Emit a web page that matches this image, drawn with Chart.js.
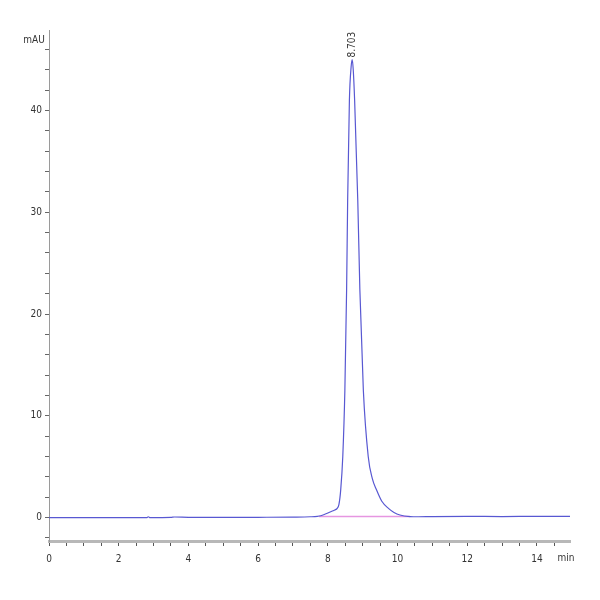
<!DOCTYPE html>
<html>
<head>
<meta charset="utf-8">
<script src="https://cdn.jsdelivr.net/npm/chart.js@4/dist/chart.umd.min.js"></script>
<style>
  html, body { margin: 0; padding: 0; background: #fff; }
  #wrap { width: 600px; height: 600px; }
</style>
</head>
<body>
<div id="wrap"><canvas id="chrom" width="600" height="600"></canvas></div>
<script>
// Retention time (min) and absorbance (mAU)
const times = [0, 1, 2, 2.8, 2.85, 2.9, 3.5, 3.6, 4, 5, 6, 7, 7.5, 7.7, 7.8, 7.9, 8.0, 8.1, 8.2,
  8.27, 8.32, 8.37, 8.43, 8.49, 8.54, 8.57, 8.62, 8.67, 8.70, 8.73, 8.77, 8.86, 8.92, 9.02,
  9.16, 9.28, 9.40, 9.55, 9.74, 9.9, 10.07, 10.36, 10.6, 11, 12, 13, 14, 14.95];
const signal = [0, 0, 0, 0, 0.08, 0, 0.02, 0.06, 0.03, 0.02, 0.03, 0.05, 0.08, 0.12, 0.18, 0.3, 0.45, 0.6, 0.75,
  0.9, 1.3, 2.7, 6.0, 12.5, 22.4, 31.2, 41, 44.3, 45.0, 44.0, 41, 31.2, 22.4, 12.5,
  6.0, 3.8, 2.7, 1.6, 0.9, 0.5, 0.25, 0.1, 0.08, 0.1, 0.12, 0.1, 0.12, 0.12];

// integration baseline under the peak
const baseTimes = [7.75, 10.36];
const baseValues = [0.1, 0.1];

const peakTime = 8.70;
const peakValue = 45.0;
const peakLabel = '8.703';

const yMajor = [0, 10, 20, 30, 40];
const xMajor = [0, 2, 4, 6, 8, 10, 12, 14];

const FONT = "'Liberation Sans Narrow', 'DejaVu Sans Condensed', 'Liberation Sans', sans-serif";

const labelsPlugin = {
  id: 'labels',
  afterDraw(chart) {
    const ctx = chart.ctx;
    const xs = chart.scales.x, ys = chart.scales.y;
    ctx.save();
    ctx.fillStyle = '#333';
    ctx.font = '10px ' + FONT;
    ctx.textAlign = 'center';
    ctx.textBaseline = 'middle';
    ctx.fillText('mAU', 34, 40);
    ctx.fillText('min', 566, 558);
    // peak retention time, rotated
    const px = xs.getPixelForValue(peakTime);
    const py = ys.getPixelForValue(peakValue);
    ctx.translate(px, py - 2);
    ctx.rotate(-Math.PI / 2);
    ctx.textAlign = 'left';
    ctx.fillText(peakLabel, 0, 0);
    ctx.restore();
  }
};

new Chart(document.getElementById('chrom'), {
  type: 'scatter',
  data: {
    datasets: [
      {
        data: times.map((t, i) => ({ x: t, y: signal[i] })),
        showLine: true,
        borderColor: 'rgb(88, 88, 210)',
        borderWidth: 1.2,
        pointRadius: 0,
        cubicInterpolationMode: 'monotone'
      },
      {
        data: baseTimes.map((t, i) => ({ x: t, y: baseValues[i] })),
        showLine: true,
        borderColor: 'rgb(230, 150, 225)',
        borderWidth: 1.5,
        pointRadius: 0
      }
    ]
  },
  options: {
    responsive: false,
    animation: false,
    devicePixelRatio: 1,
    layout: { padding: { left: 0, right: 30, top: 30, bottom: 0 } },
    plugins: { legend: { display: false }, tooltip: { enabled: false } },
    scales: {
      x: {
        type: 'linear',
        min: 0,
        max: 14.95,
        afterFit(scale) { scale.height = 59; },
        border: { color: '#b8b8b8', width: 3 },
        grid: {
          drawOnChartArea: false,
          tickLength: 5,
          color: '#555',
          lineWidth: 1
        },
        ticks: {
          stepSize: 0.5,
          autoSkip: false,
          includeBounds: false,
          maxRotation: 0,
          padding: 7,
          color: '#333',
          font: { family: FONT, size: 10 },
          callback: v => xMajor.includes(v) ? String(v) : ''
        }
      },
      y: {
        type: 'linear',
        min: -2.3,
        max: 47.9,
        afterFit(scale) { scale.width = 49; },
        border: { color: '#9a9a9a', width: 1 },
        grid: {
          drawOnChartArea: false,
          tickLength: 4,
          color: '#666',
          lineWidth: 1
        },
        ticks: {
          stepSize: 2,
          autoSkip: false,
          includeBounds: false,
          padding: 3,
          color: '#333',
          font: { family: FONT, size: 10 },
          callback: v => yMajor.includes(v) ? String(v) : ''
        }
      }
    }
  },
  plugins: [labelsPlugin]
});
</script>
</body>
</html>
